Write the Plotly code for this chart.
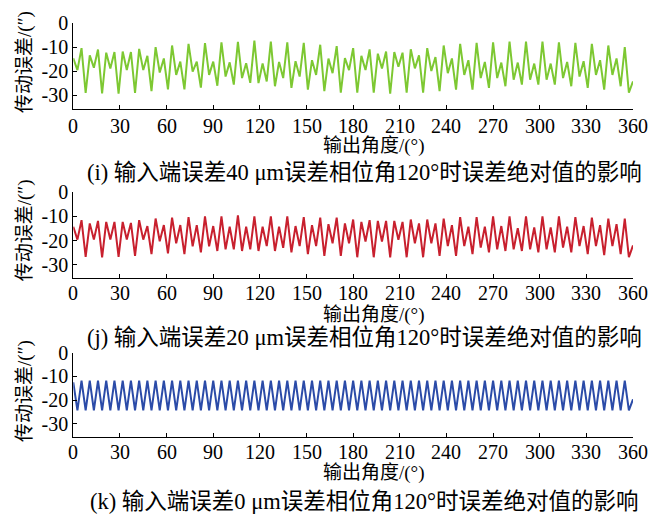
import plotly.graph_objects as go

# ---------------- data ----------------
angle_ticks = [0, 30, 60, 90, 120, 150, 180, 210, 240, 270, 300, 330, 360]
err_ticks = [0, -10, -20, -30]
err_tick_labels = ["0", "-10", "-20", "-30"]

teeth = 68  # one mesh peak + one valley per tooth over 360 deg

# (i) 40 um input error: tooth peak values and following valley values
green_peaks = [-14.6, -10.4, -13.4, -11.0, -12.3, -12.0, -11.8, -12.0, -10.7, -13.6,
               -10.0, -14.7, -9.3, -16.0, -8.6, -16.0, -8.3, -16.0, -8.0, -16.3,
               -7.8, -16.7, -7.3, -16.8, -7.7, -16.1, -8.0, -15.8, -8.2, -15.4,
               -9.0, -14.7, -9.6, -14.5, -10.4, -13.6, -10.9, -12.7, -11.8, -12.0,
               -12.3, -10.9, -13.4, -10.4, -14.1, -9.3, -14.7, -8.6, -15.4, -8.2,
               -16.1, -8.0, -16.4, -7.7, -16.4, -7.7, -16.8, -7.7, -16.8, -8.0,
               -16.1, -8.2, -15.8, -8.6, -15.4, -9.3, -14.7, -10.0]
green_valleys = [-19.5, -29.0, -18.5, -29.2, -18.8, -29.3, -19.5, -29.0, -19.5, -28.2,
                 -20.5, -27.5, -21.5, -27.5, -20.1, -26.8, -21.5, -26.0, -22.2, -25.5,
                 -22.8, -24.8, -24.9, -24.2, -26.2, -22.8, -26.9, -22.2, -27.6, -21.5,
                 -28.2, -20.8, -28.9, -19.5, -28.9, -19.5, -28.9, -18.8, -29.3, -18.1,
                 -28.9, -18.8, -28.9, -19.9, -28.2, -20.8, -27.6, -21.5, -27.6, -22.8,
                 -26.9, -22.8, -26.2, -23.5, -25.5, -23.5, -25.5, -23.5, -25.5, -22.8,
                 -26.2, -22.2, -26.9, -21.5, -27.6, -21.5, -26.2, -28.9]
green_end = -24.2

# (j) 20 um input error
red_peaks = [-14.3, -11.6, -12.9, -11.9, -12.3, -12.3, -12.3, -12.7, -11.6, -14.0,
             -10.9, -13.6, -10.5, -13.6, -10.3, -13.6, -10.0, -14.0, -10.0, -14.3,
             -9.6, -14.3, -10.0, -14.3, -10.0, -14.3, -10.0, -14.0, -10.3, -13.6,
             -10.5, -13.2, -10.5, -12.9, -11.3, -12.3, -11.6, -11.9, -11.9, -11.9,
             -12.3, -11.3, -12.9, -11.3, -12.9, -10.9, -13.6, -10.3, -14.3, -10.3,
             -14.3, -10.0, -14.0, -10.0, -14.9, -10.0, -14.6, -10.0, -14.6, -10.0,
             -14.3, -10.3, -14.0, -10.5, -13.6, -10.9, -13.2, -10.9]
red_valleys = [-19.6, -26.7, -19.6, -27.0, -19.6, -26.7, -19.6, -26.3, -19.6, -25.6,
               -20.3, -25.3, -21.1, -25.6, -22.4, -24.9, -22.4, -24.3, -23.6, -23.6,
               -24.3, -23.6, -24.3, -22.3, -24.3, -23.0, -24.9, -22.3, -25.6, -22.3,
               -26.3, -21.1, -26.3, -21.1, -26.9, -20.4, -26.9, -20.4, -26.9, -19.7,
               -26.9, -21.1, -26.9, -21.1, -26.3, -22.3, -26.3, -22.3, -25.6, -22.9,
               -24.9, -23.6, -24.3, -23.6, -24.3, -23.6, -24.9, -23.6, -24.9, -22.9,
               -24.9, -22.3, -25.6, -22.3, -26.0, -22.3, -25.6, -26.9]
red_end = -22.0

# (k) 0 um input error
blue_peaks = [-12.5, -11.8, -11.8, -11.8, -11.8, -11.8, -11.8, -11.8, -11.8, -11.8,
              -11.8, -11.8, -11.8, -11.8, -11.8, -11.8, -11.8, -11.8, -11.8, -11.8,
              -11.8, -11.8, -11.8, -11.8, -11.8, -11.8, -11.8, -11.8, -11.8, -11.8,
              -11.8, -11.8, -11.8, -11.8, -11.8, -11.8, -11.8, -11.8, -11.8, -11.8,
              -11.8, -11.8, -11.8, -11.8, -11.8, -11.8, -11.8, -11.8, -11.8, -11.8,
              -11.8, -11.8, -11.8, -11.8, -11.8, -11.8, -11.8, -11.8, -11.8, -11.8,
              -11.8, -11.8, -11.8, -11.8, -11.8, -11.8, -11.8, -11.8]
blue_valleys = [-24.4, -24.4, -24.4, -24.4, -24.4, -24.4, -24.4, -24.4, -24.4, -24.4,
                -24.4, -24.4, -24.4, -24.4, -24.4, -24.4, -24.4, -24.4, -24.4, -24.4,
                -24.4, -24.4, -24.4, -24.4, -24.4, -24.4, -24.4, -24.4, -24.4, -24.4,
                -24.4, -24.4, -24.4, -24.4, -24.4, -24.4, -24.4, -24.4, -24.4, -24.4,
                -24.4, -24.4, -24.4, -24.4, -24.4, -24.4, -24.4, -24.4, -24.4, -24.4,
                -24.4, -24.4, -24.4, -24.4, -24.4, -24.4, -24.4, -24.4, -24.4, -24.4,
                -24.4, -24.4, -24.4, -24.4, -24.4, -24.4, -24.4, -24.4]
blue_end = -19.7

y_title = "传动误差/(″)"
x_title = "输出角度/(°)"
captions = ["(i) 输入端误差40 μm误差相位角120°时误差绝对值的影响",
            "(j) 输入端误差20 μm误差相位角120°时误差绝对值的影响",
            "(k) 输入端误差0 μm误差相位角120°时误差绝对值的影响"]


def build(peaks, valleys, end):
    pitch = 360.0 / teeth
    xs, ys = [], []
    for k in range(teeth):
        xs.append(k * pitch)
        ys.append(peaks[k])
        xs.append(k * pitch + pitch / 2)
        ys.append(valleys[k])
    xs.append(360)
    ys.append(end)
    return xs, ys


W, H = 668, 529
FONT = "Liberation Serif, Noto Sans CJK SC, serif"
CJK = "Liberation Serif, Noto Sans CJK SC, serif"

panels = [
    dict(peaks=green_peaks, valleys=green_valleys, end=green_end, color="#7DC832",
         top=12.3, bottom=100, ytitle=52, xticks=117, xtitle=138, cap=165),
    dict(peaks=red_peaks, valleys=red_valleys, end=red_end, color="#C8202E",
         top=185, bottom=273, ytitle=224, xticks=288, xtitle=310, cap=333),
    dict(peaks=blue_peaks, valleys=blue_valleys, end=blue_end, color="#2B4BA8",
         top=349, bottom=435, ytitle=388, xticks=450, xtitle=472, cap=501),
]

x_left, x_right = 73.3, 633
fig = go.Figure()
annotations = []
layout_axes = {}
for i, p in enumerate(panels):
    n = "" if i == 0 else str(i + 1)
    xs, ys = build(p["peaks"], p["valleys"], p["end"])
    fig.add_trace(go.Scatter(x=xs, y=ys, mode="lines",
                             line=dict(color=p["color"], width=2),
                             xaxis="x" + n, yaxis="y" + n, showlegend=False,
                             hoverinfo="skip"))
    common = dict(showline=True, linecolor="black", linewidth=1.3, ticks="inside",
                  ticklen=4, tickwidth=1.2, tickcolor="black", showgrid=False,
                  zeroline=False, mirror=False,
                  tickfont=dict(family=FONT, size=20, color="black"))
    layout_axes["xaxis" + n] = dict(common, domain=[x_left / W, x_right / W],
                                    range=[0, 360], tickvals=angle_ticks,
                                    showticklabels=False, anchor="y" + n)
    layout_axes["yaxis" + n] = dict(common, domain=[1 - p["bottom"] / H, 1 - p["top"] / H],
                                    range=[-35.6, 0], tickvals=err_ticks,
                                    ticktext=err_tick_labels, anchor="x" + n)
    # x tick labels through the x axis scale
    for t in angle_ticks:
        annotations.append(dict(text=str(t), x=t, xref="x" + n, y=1 - p["xticks"] / H,
                                yref="paper", showarrow=False,
                                font=dict(family=FONT, size=20, color="black"),
                                xanchor="center", yanchor="middle"))
    annotations.append(dict(text=y_title, x=25 / W, y=1 - p["ytitle"] / H, xref="paper",
                            yref="paper", showarrow=False, textangle=-90,
                            font=dict(family=CJK, size=19, color="black"),
                            xanchor="center", yanchor="middle"))
    annotations.append(dict(text=x_title, x=374 / W, y=1 - p["xtitle"] / H, xref="paper",
                            yref="paper", showarrow=False,
                            font=dict(family=CJK, size=19, color="black"),
                            xanchor="center", yanchor="middle"))
    annotations.append(dict(text=captions[i], x=364 / W, y=1 - p["cap"] / H, xref="paper",
                            yref="paper", showarrow=False,
                            font=dict(family=CJK, size=22.5, color="black"),
                            xanchor="center", yanchor="middle"))

fig.update_layout(width=W, height=H, margin=dict(l=0, r=0, t=0, b=0),
                  paper_bgcolor="white", plot_bgcolor="white",
                  annotations=annotations, **layout_axes)
fig.write_html("out.html")
